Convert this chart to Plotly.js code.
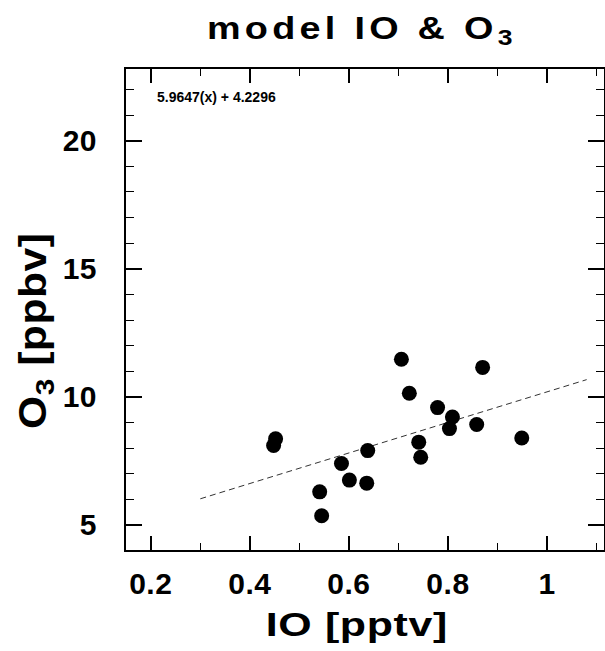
<!DOCTYPE html>
<html><head><meta charset="utf-8">
<script src="https://cdn.plot.ly/plotly-3.0.1.min.js"></script>
<style>
html,body{margin:0;padding:0;background:#fff;}
#chart .gtitle{letter-spacing:3.5px;transform-box:fill-box;transform-origin:center;transform:scaleX(1.22);}
#chart .xtick text,#chart .ytick text{letter-spacing:0.5px;}
#chart .annotation-text.axx{letter-spacing:0.5px;transform-box:fill-box;transform-origin:center;transform:scaleX(1.3);}
#chart .annotation-text.axy{letter-spacing:0.5px;transform-box:fill-box;transform-origin:center;transform:scaleX(1.12);}
</style>
</head><body><div id="chart" style="width:605px;height:651px;"></div>
<script>
const ioValues = [0.706, 0.870, 0.722, 0.779, 0.809, 0.803, 0.858, 0.949, 0.741, 0.745, 0.452, 0.448, 0.638, 0.585, 0.601, 0.636, 0.541, 0.545];
const o3Values = [11.47, 11.15, 10.14, 9.58, 9.21, 8.76, 8.92, 8.39, 8.23, 7.64, 8.36, 8.10, 7.90, 7.40, 6.75, 6.63, 6.29, 5.36];
const fitSlope = 5.9647;
const fitIntercept = 4.2296;
const fitX = [0.3, 1.08];
const fitY = fitX.map(x => fitSlope * x + fitIntercept);
const xTickVals = [0.2, 0.4, 0.6, 0.8, 1];
const xTickText = ['0.2', '0.4', '0.6', '0.8', '1'];
const yTickVals = [5, 10, 15, 20];
const yTickText = ['5', '10', '15', '20'];

const F = 'Liberation Sans, Arial, sans-serif';
const traces = [
  {x: fitX, y: fitY, mode: 'lines', type: 'scatter', line: {color: '#333', width: 1, dash: '6px,4px'}, hoverinfo: 'skip'},
  {x: ioValues, y: o3Values, mode: 'markers', type: 'scatter', marker: {color: '#000', size: 15}}
];
const axisCommon = {
  showgrid: false, zeroline: false, showline: true, linecolor: '#000', linewidth: 2,
  mirror: 'ticks', ticks: 'inside', tickcolor: '#000', tickwidth: 2,
  tickfont: {family: F, size: 30, color: '#000', weight: 700}
};
const layout = {
  width: 605, height: 651,
  margin: {l: 126, r: 1, t: 69, b: 101},
  showlegend: false,
  paper_bgcolor: '#fff', plot_bgcolor: '#fff',
  title: {text: '<b>model IO &amp; O<sub>3</sub></b>', font: {family: F, size: 31, color: '#000'}, x: 0.598, xanchor: 'center', y: 0.957, yanchor: 'middle'},
  xaxis: Object.assign({}, axisCommon, {
    range: [0.15, 1.115], tickvals: xTickVals, ticktext: xTickText.map(t => '<b>' + t + '</b>'), ticklen: 14,
    minor: {dtick: 0.1, tick0: 0, ticks: 'inside', ticklen: 7, tickcolor: '#000', tickwidth: 1},
    ticklabelstandoff: 6
  }),
  yaxis: Object.assign({}, axisCommon, {
    range: [4.02, 22.8], tickvals: yTickVals, ticktext: yTickText.map(t => '<b>' + t + '</b>'), ticklen: 16,
    minor: {dtick: 1, tick0: 0, ticks: 'inside', ticklen: 8, tickcolor: '#000', tickwidth: 1},
    ticklabelstandoff: 21
  }),
  annotations: [
    {
      text: '<b>' + fitSlope.toFixed(4) + '(x) + ' + fitIntercept.toFixed(4) + '</b>',
      xref: 'paper', yref: 'paper', x: 0.06, y: 0.942, xanchor: 'left', yanchor: 'middle',
      showarrow: false, font: {family: F, size: 14, color: '#000'}
    },
    {
      text: '<b>IO [pptv]</b>', xref: 'paper', yref: 'paper', x: 0.483, y: -0.155,
      xanchor: 'center', yanchor: 'middle', showarrow: false,
      font: {family: F, size: 33, color: '#000'}
    },
    {
      text: '<b>O<sub>3</sub> [ppbv]</b>', xref: 'paper', yref: 'paper', x: -0.188, y: 0.455, textangle: -90,
      xanchor: 'center', yanchor: 'middle', showarrow: false,
      font: {family: F, size: 38, color: '#000'}
    }
  ]
};
Plotly.newPlot('chart', traces, layout, {displayModeBar: false, staticPlot: true}).then(() => {
  const a = document.querySelectorAll('#chart .annotation-text');
  if (a[1]) a[1].classList.add('axx');
  if (a[2]) a[2].classList.add('axy');
});
</script></body></html>
